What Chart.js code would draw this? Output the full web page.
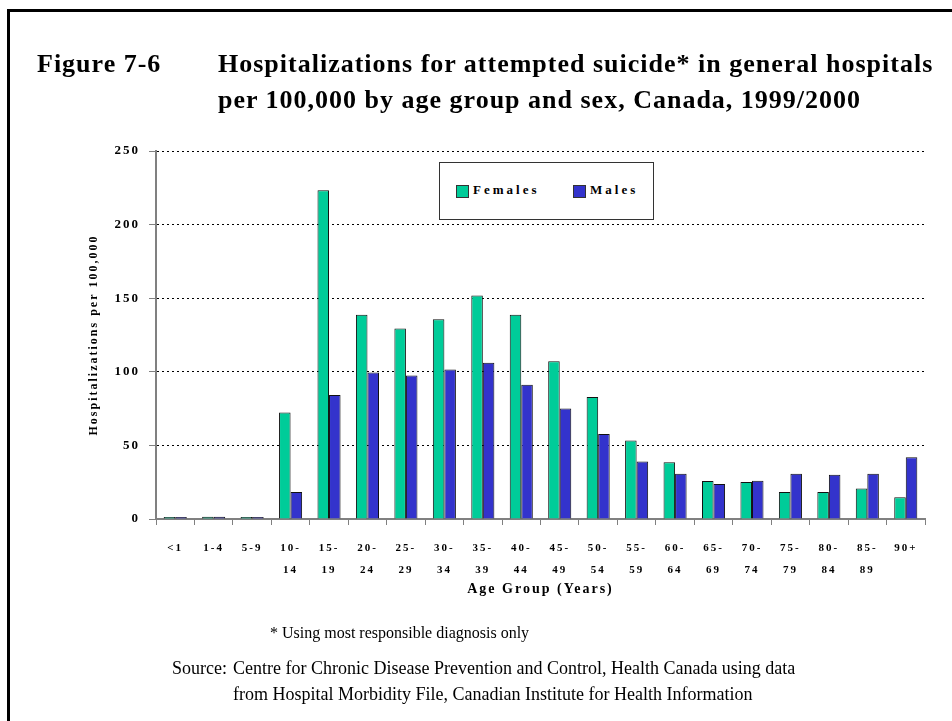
<!DOCTYPE html>
<html>
<head>
<meta charset="utf-8">
<script src="https://cdn.jsdelivr.net/npm/chart.js@4"></script>
<style>
  body { margin: 0; background: #fff; }
  #wrap { position: relative; width: 952px; height: 721px; overflow: hidden; font-family: "Liberation Serif", "Times New Roman", serif; color: #000; }
  #chart { position: absolute; left: 0; top: 0; }
  .frame-top { position: absolute; left: 7px; top: 9px; width: 945px; height: 3px; background: #000; }
  .frame-left { position: absolute; left: 7px; top: 9px; width: 3px; height: 712px; background: #000; }
  .t { position: absolute; white-space: nowrap; }
  .title { font-size: 26px; font-weight: bold; letter-spacing: 1px; line-height: 30px; }
  .note { font-size: 16px; line-height: 20px; }
  .src { font-size: 18px; line-height: 22px; }
  #legend { position: absolute; left: 439px; top: 162px; width: 213px; height: 56px; border: 1px solid #333; background: #fff;
            font-size: 13px; font-weight: bold; letter-spacing: 3px; }
  #legend span.sw { position: absolute; top: 22px; width: 11px; height: 11px; border: 1px solid #333; }
  #legend span.lb { position: absolute; top: 19px; line-height: 16px; }
</style>
</head>
<body>
<div id="wrap">
  <canvas id="chart" width="952" height="721"></canvas>
  <div class="frame-top"></div>
  <div class="frame-left"></div>
  <div class="t title" style="left:37px; top:49px;">Figure 7-6</div>
  <div class="t title" style="left:218px; top:49px;">Hospitalizations for attempted suicide* in general hospitals</div>
  <div class="t title" style="left:218px; top:85px;">per 100,000 by age group and sex, Canada, 1999/2000</div>
  <div id="legend">
    <span class="sw" style="left:16px; background:#00CC99;"></span><span class="lb" style="left:33px;">Females</span>
    <span class="sw" style="left:133px; background:#3333CC;"></span><span class="lb" style="left:150px;">Males</span>
  </div>
  <div class="t note" style="left:270px; top:623px;">* Using most responsible diagnosis only</div>
  <div class="t src" style="left:172px; top:657px;">Source:</div>
  <div class="t src" style="left:233px; top:657px;">Centre for Chronic Disease Prevention and Control, Health Canada using data</div>
  <div class="t src" style="left:233px; top:683px;">from Hospital Morbidity File, Canadian Institute for Health Information</div>
</div>
<script>
const ageGroups = [['<1'], ['1-4'], ['5-9'], ['10-', '14'], ['15-', '19'], ['20-', '24'], ['25-', '29'],
    ['30-', '34'], ['35-', '39'], ['40-', '44'], ['45-', '49'], ['50-', '54'], ['55-', '59'], ['60-', '64'],
    ['65-', '69'], ['70-', '74'], ['75-', '79'], ['80-', '84'], ['85-', '89'], ['90+']];
const females = [0.5, 1.5, 0.5, 72.4, 223.3, 138.7, 129.4, 135.7, 151.8, 138.7,
    107.2, 82.8, 53.4, 38.5, 25.8, 25.1, 18.3, 18.3, 20.8, 14.7];
const males = [0.5, 1.5, 0.5, 18.3, 84.2, 99.5, 97.5, 101.6, 106.1, 91.2,
    75.1, 57.7, 39.1, 30.8, 23.8, 26.0, 30.8, 30.1, 30.8, 41.9];
const yTicks = [0, 50, 100, 150, 200, 250];

const serif = '"Liberation Serif", "Times New Roman", serif';

// canvas text in the original is widely letter-spaced
const spacing = {
    id: 'spacing',
    beforeLayout(chart) { chart.ctx.letterSpacing = '2px'; },
    beforeDraw(chart) { chart.ctx.letterSpacing = '2px'; }
};

new Chart(document.getElementById('chart'), {
    type: 'bar',
    data: {
        labels: ageGroups,
        datasets: [{
            label: 'Females',
            data: females,
            backgroundColor: '#00CC99',
            borderColor: '#111',
            borderWidth: 1,
            minBarLength: 2
        }, {
            label: 'Males',
            data: males,
            backgroundColor: '#3333CC',
            borderColor: '#111',
            borderWidth: 1,
            minBarLength: 2
        }]
    },
    plugins: [spacing],
    options: {
        responsive: false,
        animation: false,
        events: [],
        layout: { padding: { left: 0, top: 151, right: 27, bottom: 122 } },
        datasets: { bar: { categoryPercentage: 0.6, barPercentage: 1 } },
        plugins: { legend: { display: false }, tooltip: { enabled: false } },
        scales: {
            x: {
                afterFit(s) { s.height = 80; },
                grid: { drawOnChartArea: false, tickLength: 6, tickColor: '#808080', tickWidth: 1 },
                border: { color: '#808080', width: 2 },
                ticks: {
                    color: '#000', maxRotation: 0, autoSkip: false, padding: 12,
                    font: { family: serif, size: 11, weight: 'bold', lineHeight: 2 }
                },
                title: {
                    display: true, text: 'Age Group (Years)', color: '#000',
                    padding: { top: 0, bottom: 1 },
                    font: { family: serif, size: 14, weight: 'bold' }
                }
            },
            y: {
                min: 0, max: 250,
                afterFit(s) { s.width = 156; },
                afterBuildTicks(s) { s.ticks = yTicks.map(v => ({ value: v })); },
                grid: {
                    color: ctx => (ctx.tick && ctx.tick.value === 0) ? 'rgba(0,0,0,0)' : '#000',
                    lineWidth: 1, tickLength: 7, tickColor: '#808080', tickBorderDash: []
                },
                border: { color: '#808080', width: 2, dash: [2, 3] },
                ticks: {
                    color: '#000', padding: 9,
                    font: { family: serif, size: 13, weight: 'bold' }
                },
                title: {
                    display: true, text: 'Hospitalizations per 100,000', color: '#000',
                    padding: { top: 87, bottom: 0 },
                    font: { family: serif, size: 12, weight: 'bold' }
                }
            }
        }
    }
});
</script>
</body>
</html>
